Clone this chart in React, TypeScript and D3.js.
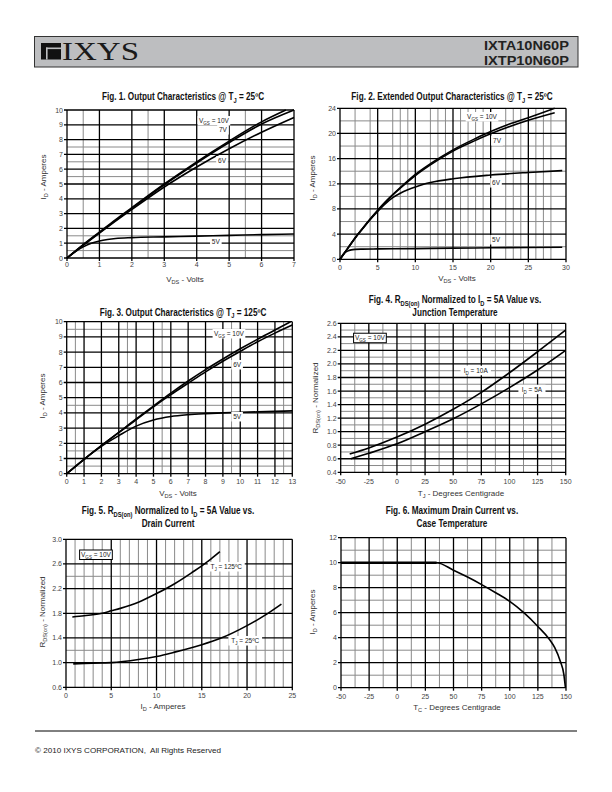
import React from 'react';
import * as d3 from 'd3';

type Pt = [number, number];
type Seg = string | { sub: string };

// ---------------- DATA ----------------
// Fig. 1  Output characteristics @ 25C  (VDS volts, ID amperes)
const fig1Vgs10: Pt[] = [[0, 0], [0.5, 0.9], [1, 1.75], [1.5, 2.6], [2, 3.4], [3, 5.0], [4, 6.5], [5, 7.9], [6, 9.2], [6.75, 10.0]];
const fig1Vgs7: Pt[] = [[0, 0], [0.5, 0.88], [1, 1.72], [2, 3.36], [3, 4.95], [4, 6.42], [5, 7.8], [6, 9.05], [7, 10.0]];
const fig1Vgs6: Pt[] = [[0, 0], [0.5, 0.85], [1, 1.68], [2, 3.28], [3, 4.8], [4, 6.15], [5, 7.38], [6, 8.5], [7, 9.5]];
const fig1Vgs5: Pt[] = [[0, 0], [0.25, 0.42], [0.5, 0.75], [0.75, 1.0], [1, 1.15], [1.25, 1.25], [1.5, 1.32], [2, 1.38], [3, 1.43], [4, 1.48], [5, 1.53], [6, 1.58], [7, 1.62]];
const fig1XTicks = [0, 1, 2, 3, 4, 5, 6, 7];
const fig1YTicks = [0, 1, 2, 3, 4, 5, 6, 7, 8, 9, 10];
const fig1XMinor = [0.5, 2.5, 5.5];
const fig1YMinor = [0.5, 1.5, 5.5, 6.5, 7.5];

// Fig. 2  Extended output characteristics @ 25C
const fig2Vgs10: Pt[] = [[0, 0], [1, 1.7], [2, 3.4], [3, 4.9], [4, 6.4], [5, 7.8], [6, 9.1], [8, 11.4], [10, 13.5], [12, 15.2], [15, 17.4], [18, 19.2], [20, 20.3], [22.5, 21.5], [25, 22.5], [28.5, 24.0]];
const fig2Vgs7: Pt[] = [[0, 0], [1, 1.7], [2, 3.4], [3, 4.9], [4, 6.35], [5, 7.75], [6, 9.05], [8, 11.3], [10, 13.3], [12, 15.0], [15, 17.2], [18, 18.9], [20, 19.95], [25, 22.1], [28.5, 23.3]];
const fig2Vgs6: Pt[] = [[0, 0], [1, 1.7], [2, 3.35], [3, 4.85], [4, 6.3], [5, 7.6], [6, 8.8], [7, 9.8], [8, 10.5], [9, 11.05], [10, 11.5], [11, 11.9], [12, 12.2], [15, 12.8], [20, 13.4], [25, 13.8], [29.5, 14.1]];
const fig2Vgs5: Pt[] = [[0, 0], [0.5, 0.9], [1, 1.3], [1.5, 1.5], [2, 1.58], [3, 1.62], [5, 1.65], [10, 1.7], [15, 1.77], [20, 1.83], [25, 1.88], [29.5, 1.92]];
const fig2XTicks = [0, 5, 10, 15, 20, 25, 30];
const fig2YTicks = [0, 4, 8, 12, 16, 20, 24];
const fig2XMinor = [2, 4, 7, 8, 9, 12, 13, 14, 16, 17, 18, 19, 22, 23, 24, 26, 27, 28];
const fig2YMinor = [2, 6, 10, 14, 18, 22];

// Fig. 3  Output characteristics @ 125C
const fig3Vgs10: Pt[] = [[0, 0], [1, 0.95], [2, 1.85], [3, 2.72], [4, 3.6], [5, 4.45], [6, 5.3], [7, 6.1], [8, 6.85], [9, 7.55], [10, 8.22], [11, 8.85], [12, 9.45], [12.9, 10.0]];
const fig3Vgs6: Pt[] = [[0, 0], [1, 0.95], [2, 1.85], [3, 2.7], [4, 3.55], [5, 4.4], [6, 5.2], [7, 5.95], [8, 6.7], [9, 7.4], [10, 8.05], [11, 8.68], [12, 9.25], [13, 9.78]];
const fig3Vgs5: Pt[] = [[0, 0], [1, 0.95], [2, 1.8], [3, 2.5], [4, 3.13], [5, 3.53], [6, 3.76], [7, 3.88], [8, 3.95], [9, 4.0], [10, 4.04], [11, 4.07], [12, 4.1], [13, 4.13]];
const fig3XTicks = [0, 1, 2, 3, 4, 5, 6, 7, 8, 9, 10, 11, 12, 13];
const fig3YTicks = [0, 1, 2, 3, 4, 5, 6, 7, 8, 9, 10];
const fig3XMinor = [0.5, 3.5, 5.5, 9.5, 12.5];
const fig3YMinor = [0.5, 1.5, 4.5, 9.5];

// Fig. 4  RDS(on) normalized vs junction temperature
const fig4Id10: Pt[] = [[-42, 0.67], [-25, 0.76], [0, 0.92], [25, 1.11], [50, 1.33], [75, 1.58], [100, 1.87], [125, 2.18], [150, 2.5]];
const fig4Id5: Pt[] = [[-41, 0.6], [-25, 0.68], [0, 0.82], [25, 1.0], [50, 1.19], [75, 1.41], [100, 1.65], [125, 1.91], [150, 2.2]];
const fig4XTicks = [-50, -25, 0, 25, 50, 75, 100, 125, 150];
const fig4YTicks = [0.4, 0.6, 0.8, 1.0, 1.2, 1.4, 1.6, 1.8, 2.0, 2.2, 2.4, 2.6];
const fig4XMinor = [-37.5, -12.5, 12.5, 37.5, 62.5, 87.5, 112.5, 137.5];
const fig4YMinor = [0.5, 0.7, 0.9, 1.1, 1.3, 1.5, 1.7, 1.9, 2.1, 2.3, 2.5];

// Fig. 5  RDS(on) normalized vs drain current
const fig5Tj125: Pt[] = [[0.7, 1.74], [2, 1.76], [4, 1.8], [5, 1.84], [6, 1.88], [8, 1.98], [10, 2.12], [12, 2.28], [14, 2.47], [15, 2.57], [16, 2.68], [17, 2.8]];
const fig5Tj25: Pt[] = [[0.8, 0.98], [2, 0.985], [4, 0.995], [5, 1.0], [8, 1.05], [10, 1.1], [12, 1.17], [15, 1.29], [17, 1.39], [20, 1.6], [22, 1.77], [23.8, 1.95]];
const fig5XTicks = [0, 5, 10, 15, 20, 25];
const fig5YTicks = [0.6, 1.0, 1.4, 1.8, 2.2, 2.6, 3.0];
const fig5XMinor = [1, 2, 3, 4, 6, 7, 8, 9, 11, 12, 13, 14, 16, 17, 18, 19, 21, 22, 23, 24];
const fig5YMinor = [1.2, 2.4];

// Fig. 6  Maximum drain current vs case temperature
const fig6Id: Pt[] = [[-50, 10], [35, 10], [50, 9.4], [62.5, 8.85], [75, 8.25], [87.5, 7.6], [100, 6.9], [112.5, 6.0], [125, 4.9], [135, 3.9], [140, 3.2], [145, 2.1], [148, 1.1], [149.5, 0]];
const fig6XTicks = [-50, -25, 0, 25, 50, 75, 100, 125, 150];
const fig6YTicks = [0, 2, 4, 6, 8, 10, 12];
const fig6XMinor = [-37.5, -12.5, 12.5, 37.5, 62.5, 87.5, 112.5, 137.5];
const fig6YMinor = [1, 3, 5, 7, 9, 11];

// ---------------- RENDERING ----------------
const FONT = "'Liberation Sans', Arial, Helvetica, sans-serif";

function Rich({ segs, size }: { segs: Seg[]; size: number }) {
  const out: React.ReactNode[] = [];
  let shifted = false;
  segs.forEach((s, i) => {
    if (typeof s === 'string') {
      out.push(<tspan key={i} dy={shifted ? -size * 0.28 : 0}>{s}</tspan>);
      shifted = false;
    } else {
      out.push(<tspan key={i} dy={size * 0.28} fontSize={size * 0.7}>{s.sub}</tspan>);
      shifted = true;
    }
  });
  return <>{out}</>;
}

function segLen(segs: Seg[]) {
  return segs.reduce((a, s) => a + (typeof s === 'string' ? s.length : s.sub.length * 0.7), 0);
}

interface Series { data: Pt[]; width?: number }
interface Label { segs: Seg[]; at: Pt; boxed?: boolean }
interface TitleLine { segs: Seg[]; y: number }
interface Spec {
  box: [number, number, number, number];
  xDomain: [number, number];
  yDomain: [number, number];
  xTicks: number[];
  yTicks: number[];
  xMinor: number[];
  yMinor: number[];
  yFmt: (v: number) => string;
  xTickDy: number;
  series: Series[];
  labels: Label[];
  titleX: number;
  title: TitleLine[];
  xTitle: { segs: Seg[]; x: number; y: number };
  yTitle: { segs: Seg[]; x: number; y: number };
}

function Chart({ s }: { s: Spec }) {
  const [l, t, r, b] = s.box;
  const x = d3.scaleLinear().domain(s.xDomain).range([l, r]);
  const y = d3.scaleLinear().domain(s.yDomain).range([b, t]);
  const line = d3.line<Pt>().x(d => x(d[0])).y(d => y(d[1])).curve(d3.curveMonotoneX);
  return (
    <g>
      {s.xMinor.map(v => <line key={'xm' + v} x1={x(v)} x2={x(v)} y1={t} y2={b} stroke="#8a8a8a" strokeWidth={1} />)}
      {s.yMinor.map(v => <line key={'ym' + v} x1={l} x2={r} y1={y(v)} y2={y(v)} stroke="#8a8a8a" strokeWidth={1} />)}
      {s.xTicks.map(v => <line key={'xg' + v} x1={x(v)} x2={x(v)} y1={t} y2={b + 3} stroke="#000" strokeWidth={1.3} />)}
      {s.yTicks.map(v => <line key={'yg' + v} x1={l - 3} x2={r} y1={y(v)} y2={y(v)} stroke="#000" strokeWidth={1.3} />)}
      {s.xTicks.map(v => (
        <text key={'xt' + v} x={x(v)} y={b + s.xTickDy + 2.5} fontSize={7} fill="#444" textAnchor="middle" fontFamily={FONT}>{v}</text>
      ))}
      {s.yTicks.map(v => (
        <text key={'yt' + v} x={l - 4} y={y(v) + 2.5} fontSize={7} fill="#444" textAnchor="end" fontFamily={FONT}>{s.yFmt(v)}</text>
      ))}
      {s.series.map((se, i) => (
        <path key={'s' + i} d={line(se.data) || ''} fill="none" stroke="#000" strokeWidth={se.width ?? 1.6} />
      ))}
      {s.labels.map((lb, i) => {
        const w = segLen(lb.segs) * 3.3 + 5;
        const cx = x(lb.at[0]);
        const by = y(lb.at[1]);
        return (
          <g key={'lb' + i}>
            <rect x={cx - w / 2} y={by - 7} width={w} height={9.5} fill="#fff" stroke={lb.boxed ? '#000' : 'none'} strokeWidth={1} />
            <text x={cx} y={by} fontSize={6.5} fill="#222" textAnchor="middle" fontFamily={FONT}>
              <Rich segs={lb.segs} size={6.5} />
            </text>
          </g>
        );
      })}
      {s.title.map((tl, i) => (
        <text key={'ti' + i} transform={`translate(${s.titleX},${tl.y}) scale(0.82,1)`} fontSize={10} fontWeight="bold"
          fill="#111" textAnchor="middle" fontFamily={FONT}>
          <Rich segs={tl.segs} size={10} />
        </text>
      ))}
      <text x={s.xTitle.x} y={s.xTitle.y} fontSize={8} fill="#333" textAnchor="middle" fontFamily={FONT}>
        <Rich segs={s.xTitle.segs} size={8} />
      </text>
      <text transform={`translate(${s.yTitle.x},${s.yTitle.y}) rotate(-90)`} dy="0.35em" fontSize={8} fill="#333" textAnchor="middle" fontFamily={FONT}>
        <Rich segs={s.yTitle.segs} size={8} />
      </text>
    </g>
  );
}

const intFmt = (v: number) => String(v);
const dec1 = d3.format('.1f');

const specs: Spec[] = [
  {
    box: [67, 110, 294, 258], xDomain: [0, 7], yDomain: [0, 10],
    xTicks: fig1XTicks, yTicks: fig1YTicks, xMinor: fig1XMinor, yMinor: fig1YMinor, yFmt: intFmt, xTickDy: 6,
    series: [{ data: fig1Vgs10 }, { data: fig1Vgs7 }, { data: fig1Vgs6 }, { data: fig1Vgs5 }],
    labels: [
      { segs: ['V', { sub: 'GS' }, ' = 10V'], at: [4.53, 9.12] },
      { segs: ['7V'], at: [4.81, 8.51] },
      { segs: ['6V'], at: [4.78, 6.42] },
      { segs: ['5V'], at: [4.59, 0.93] },
    ],
    titleX: 183, title: [{ segs: ['Fig. 1. Output Characteristics @ T', { sub: 'J' }, ' = 25ºC'], y: 100 }],
    xTitle: { segs: ['V', { sub: 'DS' }, ' - Volts'], x: 185, y: 282 },
    yTitle: { segs: ['I', { sub: 'D' }, ' - Amperes'], x: 46, y: 177 },
  },
  {
    box: [340, 108.3, 566, 259.3], xDomain: [0, 30], yDomain: [0, 24],
    xTicks: fig2XTicks, yTicks: fig2YTicks, xMinor: fig2XMinor, yMinor: fig2YMinor, yFmt: intFmt, xTickDy: 8.3,
    series: [{ data: fig2Vgs10 }, { data: fig2Vgs7 }, { data: fig2Vgs6 }, { data: fig2Vgs5 }],
    labels: [
      { segs: ['V', { sub: 'GS' }, ' = 10V'], at: [18.85, 22.3] },
      { segs: ['7V'], at: [20.84, 18.48] },
      { segs: ['6V'], at: [20.71, 11.8] },
      { segs: ['5V'], at: [20.71, 2.75] },
    ],
    titleX: 452, title: [{ segs: ['Fig. 2. Extended Output Characteristics @ T', { sub: 'J' }, ' = 25ºC'], y: 100 }],
    xTitle: { segs: ['V', { sub: 'DS' }, ' - Volts'], x: 457, y: 281 },
    yTitle: { segs: ['I', { sub: 'D' }, ' - Amperes'], x: 315, y: 178 },
  },
  {
    box: [66.7, 321.7, 292.3, 473.7], xDomain: [0, 13], yDomain: [0, 10],
    xTicks: fig3XTicks, yTicks: fig3YTicks, xMinor: fig3XMinor, yMinor: fig3YMinor, yFmt: intFmt, xTickDy: 7.3,
    series: [{ data: fig3Vgs10 }, { data: fig3Vgs6 }, { data: fig3Vgs5 }],
    labels: [
      { segs: ['V', { sub: 'GS' }, ' = 10V'], at: [9.35, 9.06] },
      { segs: ['6V'], at: [9.82, 7.02] },
      { segs: ['5V'], at: [9.82, 3.6] },
    ],
    titleX: 183, title: [{ segs: ['Fig. 3. Output Characteristics @ T', { sub: 'J' }, ' = 125ºC'], y: 315.5 }],
    xTitle: { segs: ['V', { sub: 'DS' }, ' - Volts'], x: 178, y: 496 },
    yTitle: { segs: ['I', { sub: 'D' }, ' - Amperes'], x: 45, y: 396 },
  },
  {
    box: [340.7, 323.3, 565.7, 472.3], xDomain: [-50, 150], yDomain: [0.4, 2.6],
    xTicks: fig4XTicks, yTicks: fig4YTicks, xMinor: fig4XMinor, yMinor: fig4YMinor, yFmt: dec1, xTickDy: 9.3,
    series: [{ data: fig4Id10 }, { data: fig4Id5 }],
    labels: [
      { segs: ['V', { sub: 'GS' }, ' = 10V'], at: [-24, 2.35], boxed: true },
      { segs: ['I', { sub: 'D' }, ' = 10A'], at: [70, 1.87] },
      { segs: ['I', { sub: 'D' }, ' = 5A'], at: [120, 1.59] },
    ],
    titleX: 455,
    title: [
      { segs: ['Fig. 4. R', { sub: 'DS(on)' }, ' Normalized to I', { sub: 'D' }, ' = 5A Value vs.'], y: 303 },
      { segs: ['Junction Temperature'], y: 315.5 },
    ],
    xTitle: { segs: ['T', { sub: 'J' }, ' - Degrees Centigrade'], x: 461, y: 495.5 },
    yTitle: { segs: ['R', { sub: 'DS(on)' }, ' - Normalized'], x: 318, y: 398 },
  },
  {
    box: [66, 539.3, 292.3, 687.3], xDomain: [0, 25], yDomain: [0.6, 3.0],
    xTicks: fig5XTicks, yTicks: fig5YTicks, xMinor: fig5XMinor, yMinor: fig5YMinor, yFmt: dec1, xTickDy: 7.7,
    series: [{ data: fig5Tj125 }, { data: fig5Tj25 }],
    labels: [
      { segs: ['V', { sub: 'GS' }, ' = 10V'], at: [3.31, 2.713], boxed: true },
      { segs: ['T', { sub: 'J' }, ' = 125ºC'], at: [17.7, 2.518] },
      { segs: ['T', { sub: 'J' }, ' = 25ºC'], at: [19.8, 1.318] },
    ],
    titleX: 168,
    title: [
      { segs: ['Fig. 5. R', { sub: 'DS(on)' }, ' Normalized to I', { sub: 'D' }, ' = 5A Value vs.'], y: 514 },
      { segs: ['Drain Current'], y: 526.5 },
    ],
    xTitle: { segs: ['I', { sub: 'D' }, ' - Amperes'], x: 163, y: 709 },
    yTitle: { segs: ['R', { sub: 'DS(on)' }, ' - Normalized'], x: 45, y: 612 },
  },
  {
    box: [341, 537.7, 566, 687.7], xDomain: [-50, 150], yDomain: [0, 12],
    xTicks: fig6XTicks, yTicks: fig6YTicks, xMinor: fig6XMinor, yMinor: fig6YMinor, yFmt: intFmt, xTickDy: 9,
    series: [{ data: fig6Id }, { data: fig6Id.filter(d => d[1] === 10), width: 2.6 }],
    labels: [],
    titleX: 452,
    title: [
      { segs: ['Fig. 6. Maximum Drain Current vs.'], y: 514 },
      { segs: ['Case Temperature'], y: 526.5 },
    ],
    xTitle: { segs: ['T', { sub: 'C' }, ' - Degrees Centigrade'], x: 457, y: 709.5 },
    yTitle: { segs: ['I', { sub: 'D' }, ' - Amperes'], x: 315, y: 612 },
  },
];

export default function App() {
  return (
    <svg width={612} height={792} viewBox="0 0 612 792"
      style={{ position: 'absolute', left: 0, top: 0, background: '#fff' }}>
      <rect x={0} y={0} width={612} height={792} fill="#fff" />
      {/* header */}
      <rect x={34.5} y={36.5} width={543.5} height={30.5} fill="#bdbec0" stroke="#333" strokeWidth={1} />
      <rect x={41} y={43} width={20} height={16.5} fill="#111" />
      <rect x={46} y={47.5} width={15} height={1.6} fill="#bdbec0" />
      <rect x={46} y={47.5} width={1.6} height={12} fill="#bdbec0" />
      <text x={62} y={60} fontSize={26} fill="#1a1a1a" fontFamily="'Liberation Serif', 'DejaVu Serif', serif"
        textLength={77} lengthAdjust="spacingAndGlyphs">IXYS</text>
      <text x={569} y={50} fontSize={13.5} fontWeight="bold" fill="#222" textAnchor="end" fontFamily={FONT}
        textLength={85} lengthAdjust="spacingAndGlyphs">IXTA10N60P</text>
      <text x={569} y={64.5} fontSize={13.5} fontWeight="bold" fill="#222" textAnchor="end" fontFamily={FONT}
        textLength={85} lengthAdjust="spacingAndGlyphs">IXTP10N60P</text>

      {specs.map((s, i) => <Chart key={i} s={s} />)}

      {/* footer */}
      <line x1={35} x2={577} y1={731} y2={731} stroke="#000" strokeWidth={1} />
      <text x={35} y={753} fontSize={8} fill="#222" fontFamily={FONT} style={{ whiteSpace: 'pre' }}
        textLength={186} lengthAdjust="spacingAndGlyphs">© 2010 IXYS CORPORATION,  All Rights Reserved</text>
    </svg>
  );
}
